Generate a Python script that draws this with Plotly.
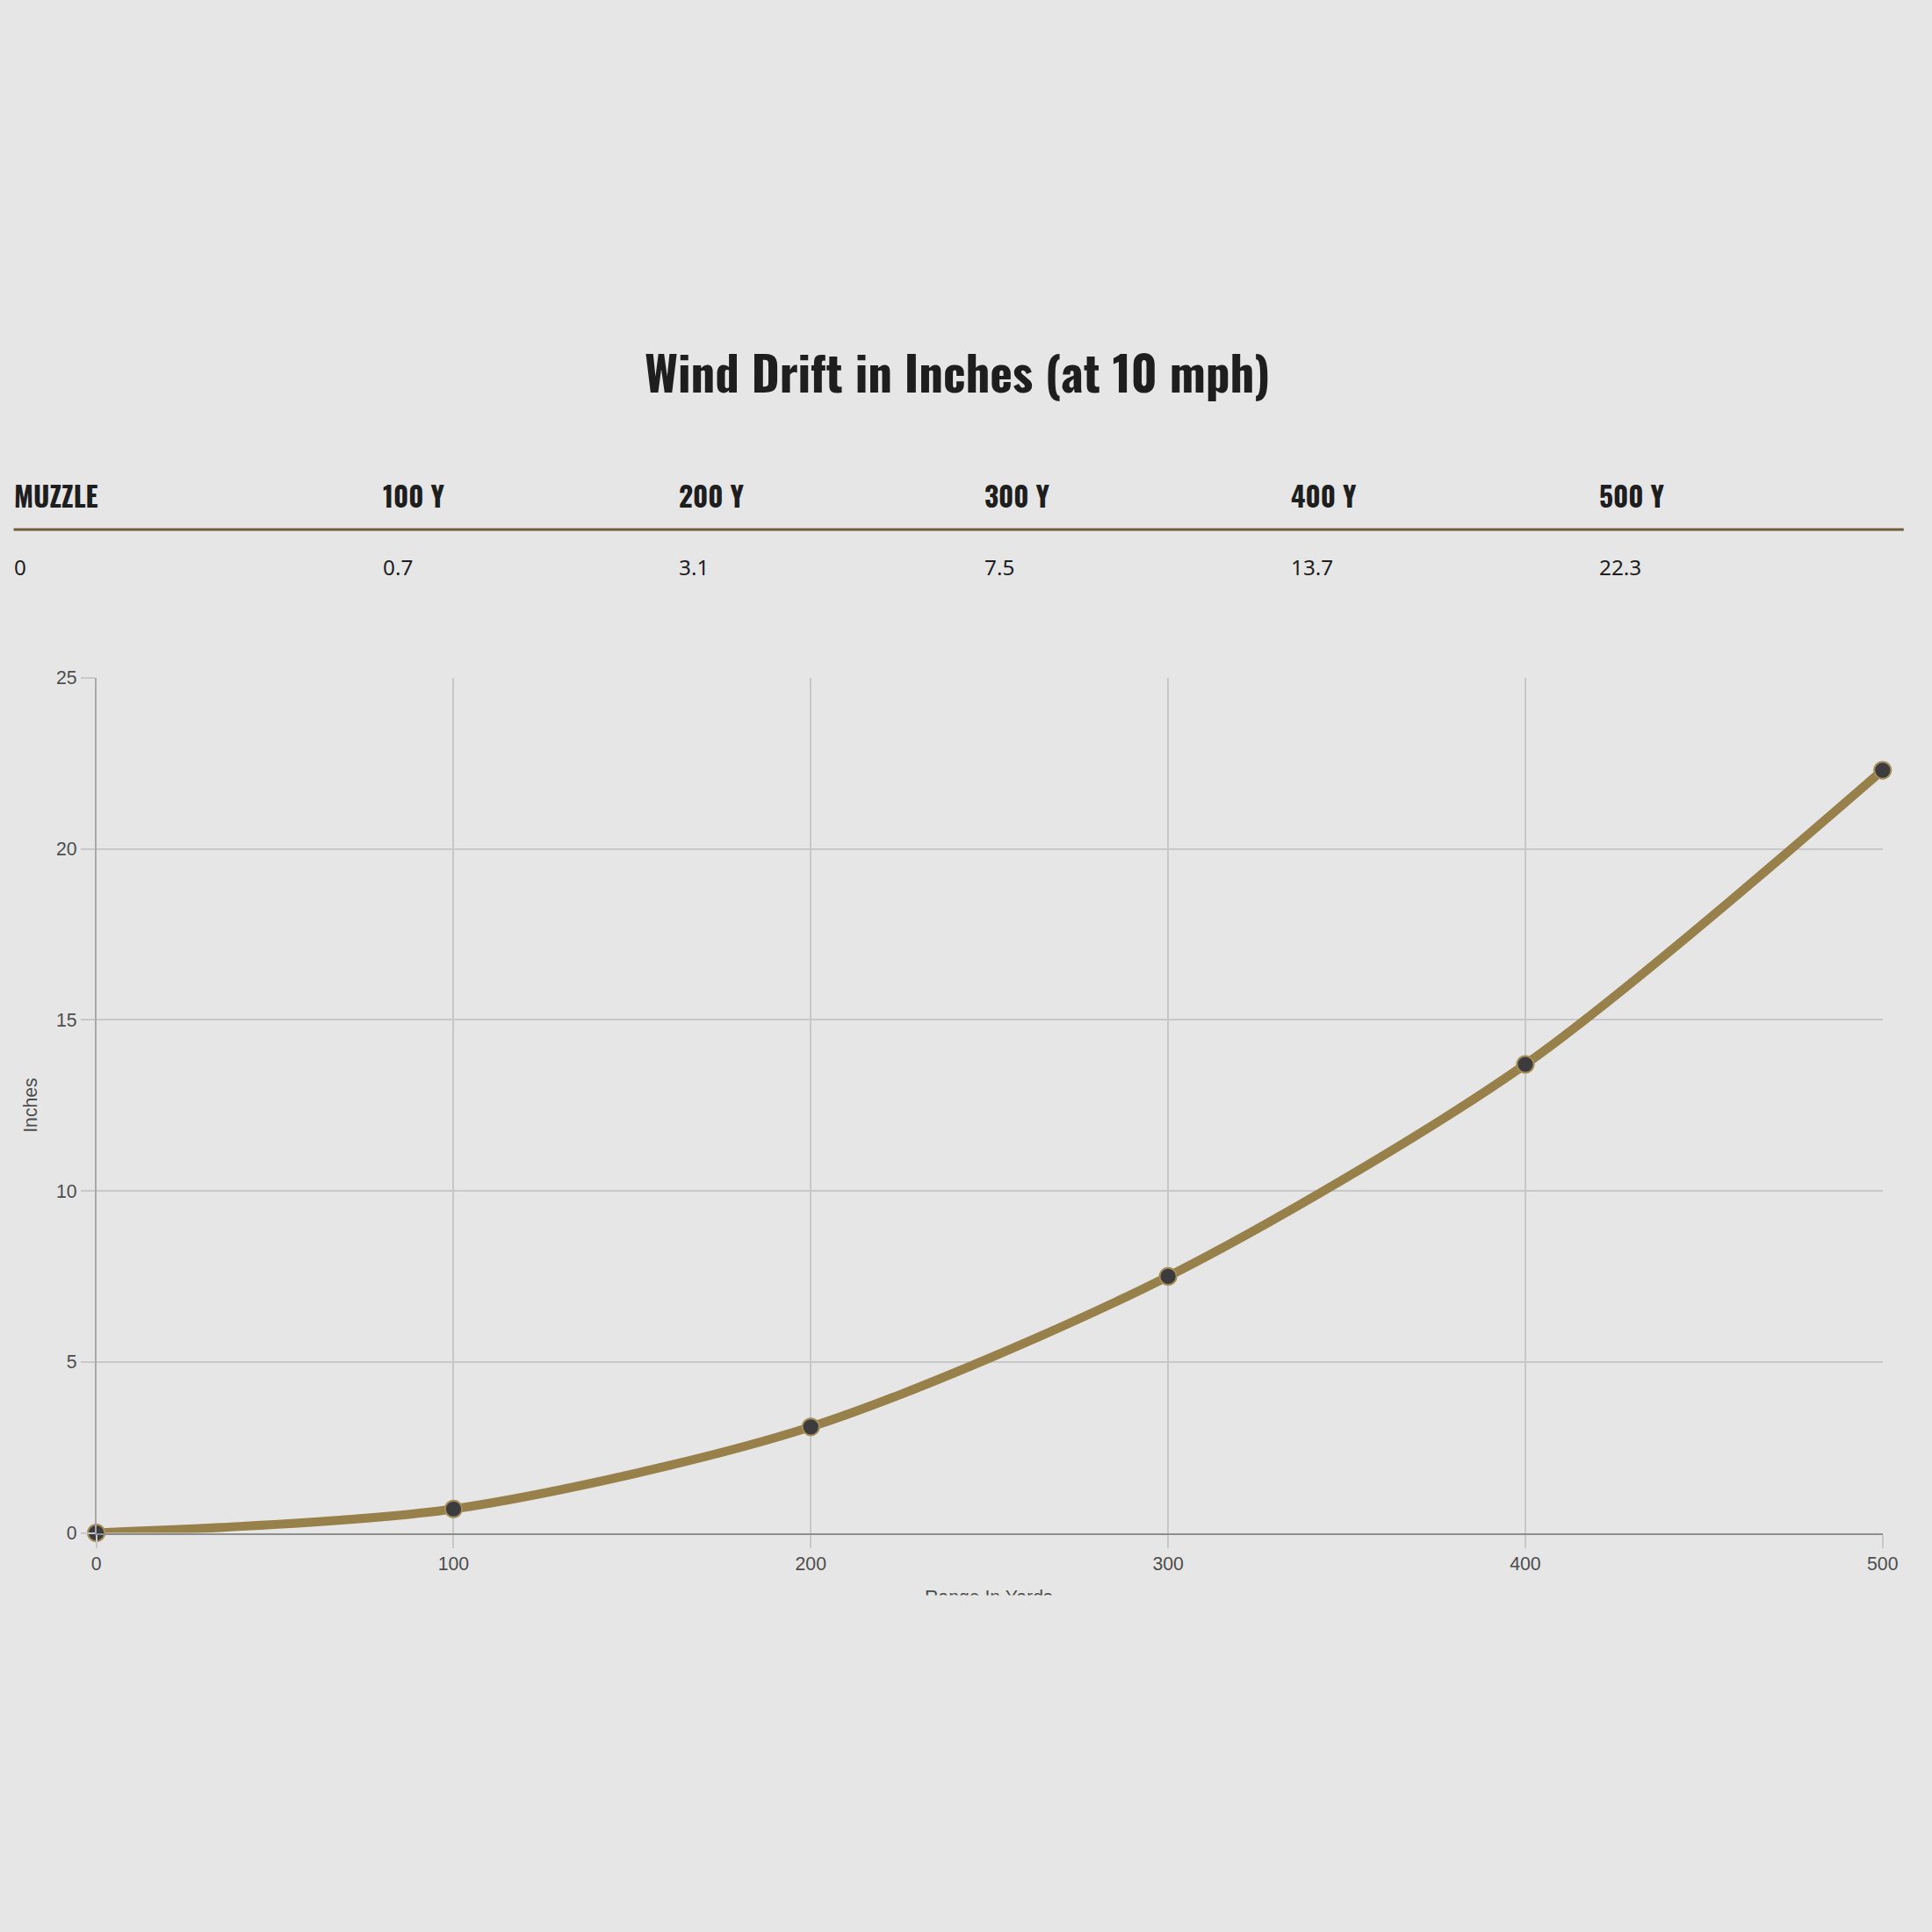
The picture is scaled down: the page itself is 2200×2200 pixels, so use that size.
import plotly.graph_objects as go

# ---- data ----
range_yards = [0, 100, 200, 300, 400, 500]
drift_inches = [0, 0.7, 3.1, 7.5, 13.7, 22.3]
table_headers = ["MUZZLE", "100 Y", "200 Y", "300 Y", "400 Y", "500 Y"]
table_values = ["0", "0.7", "3.1", "7.5", "13.7", "22.3"]
y_ticks = [0, 5, 10, 15, 20, 25]
title_text = "Wind Drift in Inches (at 10 mph)"
y_title = "Inches"
x_title = "Range In Yards"

W = H = 2200
BG = "#e6e6e6"
COND = "Oswald, 'Liberation Sans Narrow', 'DejaVu Sans Condensed', sans-serif"
BODY = "'Noto Sans', 'Open Sans', sans-serif"
SANS = "'Liberation Sans', Arial, Helvetica, sans-serif"
TICK_COL = "#4d4d4d"

# page-to-figure calibration (target pixel -> figure pixel)
K = 1.0116
OX, OY = -5.5, -12.6

def px(x):
    return (K * x + OX) / W

def py(y):
    return 1 - (K * y + OY) / H

def s(v):
    return v * K

fig = go.Figure()
fig.add_trace(go.Scatter(
    x=range_yards, y=drift_inches,
    mode="lines+markers",
    line=dict(color="#978049", width=s(10), shape="spline", smoothing=0.8),
    marker=dict(size=s(19), color="#3c3b3d", line=dict(color="#a58d5a", width=2)),
    cliponaxis=False,
    showlegend=False,
    hoverinfo="x+y",
))

annotations = []
annotations.append(dict(
    text=title_text, x=px(1089), y=py(423), xref="paper", yref="paper",
    xanchor="center", yanchor="middle", showarrow=False,
    font=dict(family=COND, size=s(54), color="#1e1e1e", weight="bold"),
))
col_x = [13, 433, 770, 1118, 1467, 1817]
for cx, hdr, val in zip(col_x, table_headers, table_values):
    annotations.append(dict(
        text=hdr, x=px(cx), y=py(564), xref="paper", yref="paper",
        xanchor="left", yanchor="middle", showarrow=False,
        font=dict(family=COND, size=s(31), color="#1e1e1e", weight="bold"),
    ))
    annotations.append(dict(
        text=val, x=px(cx), y=py(646), xref="paper", yref="paper",
        xanchor="left", yanchor="middle", showarrow=False,
        font=dict(family=BODY, size=s(24), color="#1e1e1e"),
    ))
annotations.append(dict(
    text=y_title, x=px(35), y=py(1258), xref="paper", yref="paper",
    xanchor="center", yanchor="middle", showarrow=False, textangle=-90,
    font=dict(family=SANS, size=s(21), color=TICK_COL),
))
annotations.append(dict(
    text=x_title, x=px(1125), y=py(1804), xref="paper", yref="paper",
    xanchor="center", yanchor="top", showarrow=False,
    font=dict(family=SANS, size=s(21), color=TICK_COL),
))
# cover to reproduce the clipped bottom of the x-axis title
annotations.append(dict(
    text=" ", x=px(1125), y=py(1815), xref="paper", yref="paper",
    xanchor="center", yanchor="top", showarrow=False,
    width=300, height=40, bgcolor=BG, borderpad=0,
))

fig.update_layout(
    width=W, height=H,
    paper_bgcolor=BG, plot_bgcolor=BG,
    margin=dict(l=0, r=0, t=0, b=0),
    annotations=annotations,
    shapes=[dict(type="line", xref="paper", yref="paper",
                 x0=px(15), x1=px(2166), y0=py(603), y1=py(603),
                 line=dict(color="#6e5c3c", width=3))],
    xaxis=dict(
        domain=[px(109), px(2142)], range=[0, 500],
        tickvals=range_yards, showgrid=True, gridcolor="#c8c8c8", gridwidth=1.5,
        ticks="outside", ticklen=15, tickcolor="#c8c8c8", tickwidth=1.5,
        zeroline=False, showline=True, linecolor="#8e8e8e", linewidth=2,
        tickfont=dict(family=SANS, size=s(21), color=TICK_COL),
        fixedrange=True,
    ),
    yaxis=dict(
        domain=[py(1745), py(772)], range=[0, 25],
        tickvals=y_ticks, showgrid=True, gridcolor="#c8c8c8", gridwidth=1.5,
        ticks="outside", ticklen=16, tickcolor="#c8c8c8", tickwidth=1.5,
        zeroline=False, showline=True, linecolor="#a8a8a8", linewidth=1.5,
        tickfont=dict(family=SANS, size=s(21), color=TICK_COL),
        fixedrange=True,
    ),
)

fig.write_html(
    "out.html",
    config={"displayModeBar": False},
    post_script=(
        "document.body.style.margin='0';"
        "document.body.style.background='#e6e6e6';"
        "document.documentElement.style.overflow='hidden';"
    ),
)
